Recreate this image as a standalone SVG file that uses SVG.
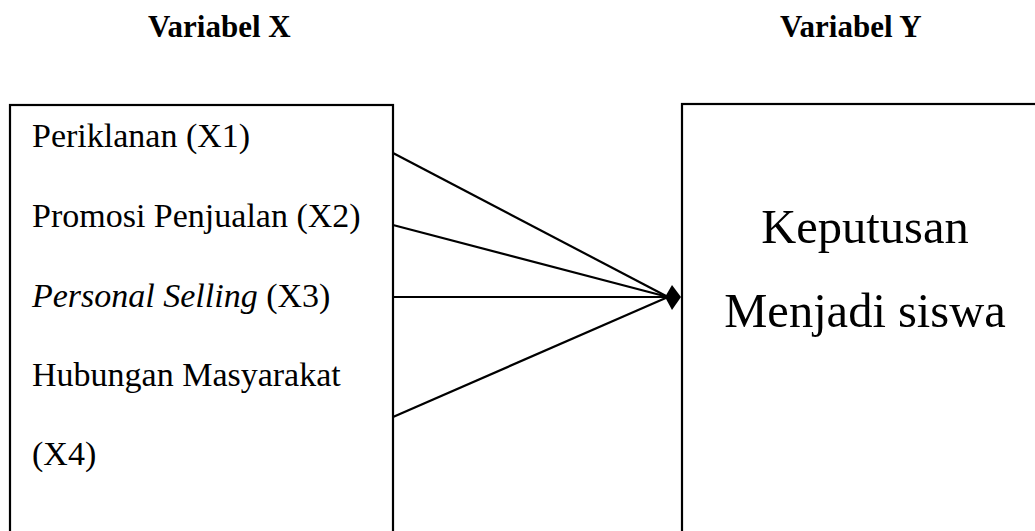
<svg xmlns="http://www.w3.org/2000/svg" width="1035" height="531" viewBox="0 0 1035 531">
  <style>
    .box { fill: none; stroke: #000; stroke-width: 2.2; }
    .head { font-family: "Liberation Serif", "Times New Roman", serif; font-weight: bold; font-size: 31px; fill: #000; }
    .item { font-family: "Liberation Serif", "Times New Roman", serif; font-size: 34px; fill: #000; }
    .big { font-family: "Liberation Serif", "Times New Roman", serif; font-size: 48.5px; fill: #000; text-anchor: middle; }
    .link { stroke: #000; stroke-width: 2.2; fill: none; }
  </style>

  <!-- column headings -->
  <text class="head" x="148" y="37">Variabel X</text>
  <text class="head" x="780" y="37">Variabel Y</text>

  <!-- independent variables -->
  <g id="variabel-x">
    <rect class="box" x="10" y="105" width="383" height="460"/>
    <text class="item" x="32" y="147">Periklanan (X1)</text>
    <text class="item" x="32" y="227">Promosi Penjualan (X2)</text>
    <text class="item" x="32" y="307"><tspan font-style="italic">Personal Selling</tspan> (X3)</text>
    <text class="item" x="32" y="386">Hubungan Masyarakat</text>
    <text class="item" x="32" y="465">(X4)</text>
  </g>

  <!-- dependent variable -->
  <g id="variabel-y">
    <rect class="box" x="682" y="104" width="400" height="460"/>
    <text class="big" x="865" y="243">Keputusan</text>
    <text class="big" x="865" y="327">Menjadi siswa</text>
  </g>

  <!-- connectors converging on the right box -->
  <g id="connectors">
    <line class="link" x1="393" y1="153" x2="668" y2="297"/>
    <line class="link" x1="393" y1="225" x2="668" y2="297"/>
    <line class="link" x1="393" y1="297" x2="668" y2="297"/>
    <line class="link" x1="393" y1="417" x2="668" y2="297"/>
    <path d="M681,297 L672,285 L665,297 L672,310 Z" fill="#000"/>
  </g>
</svg>
